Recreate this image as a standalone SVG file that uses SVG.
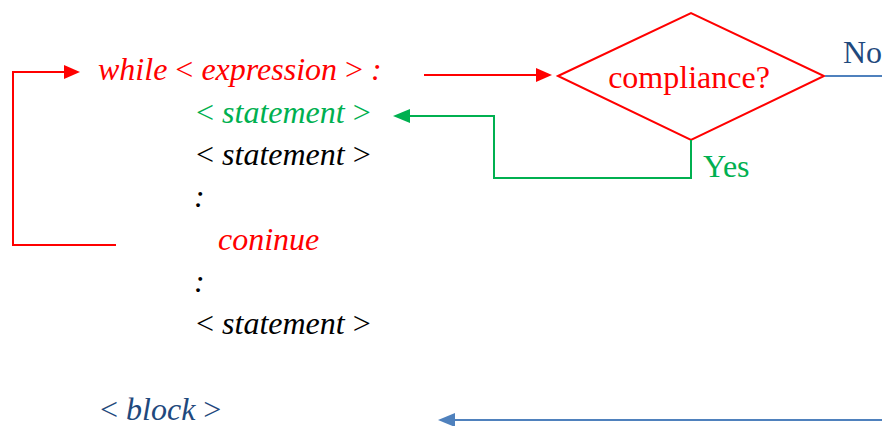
<svg xmlns="http://www.w3.org/2000/svg" width="882" height="426" viewBox="0 0 882 426">
<style>
text{font-family:'Liberation Serif','DejaVu Serif',serif;font-size:32px}
.i{font-style:italic}
.red{fill:#ff0000}.grn{fill:#00b050}.blk{fill:#000}.blu{fill:#1f497d}
.ln{fill:none;stroke-width:2}
</style>
<g id="code">
<text x="98" y="80" class="red"><tspan class="i">while</tspan> &lt; <tspan class="i">expression</tspan> &gt; <tspan class="i">:</tspan></text>
<text x="196" y="123" class="grn">&lt; <tspan class="i">statement</tspan> &gt;</text>
<text x="196" y="165" class="blk">&lt; <tspan class="i">statement</tspan> &gt;</text>
<text x="194" y="207" class="blk i">:</text>
<text x="218" y="250" class="red i">coninue</text>
<text x="194" y="292" class="blk i">:</text>
<text x="196" y="334" class="blk">&lt; <tspan class="i">statement</tspan> &gt;</text>
<text x="100" y="420" class="blu">&lt; <tspan class="i">block</tspan> &gt;</text>
</g>
<g id="decision">
<polygon points="558,76 691,13 824,76 691,140" fill="#fff" stroke="#ff0000" stroke-width="2"/>
<text x="689" y="88" text-anchor="middle" class="red">compliance?</text>
</g>
<g id="connectors">
<polyline class="ln" stroke="#ff0000" points="116,245 13,245 13,72 66,72"/>
<polygon points="64,65 80,72 64,79" fill="#ff0000"/>
<line class="ln" stroke="#ff0000" x1="424" y1="75" x2="538" y2="75"/>
<polygon points="536,68 552,75 536,82" fill="#ff0000"/>
<polyline class="ln" stroke="#00b050" points="691,140 691,178 494,178 494,116 408,116"/>
<polygon points="410,109 393,116 410,123" fill="#00b050"/>
<line class="ln" stroke="#4f81bd" x1="825" y1="76" x2="882" y2="76"/>
<line class="ln" stroke="#4f81bd" x1="882" y1="420" x2="452" y2="420"/>
<polygon points="455,413 438,420 455,427" fill="#4f81bd"/>
<text x="843" y="63" class="blu">No</text>
<text x="703" y="177" class="grn">Yes</text>
</g>
</svg>
